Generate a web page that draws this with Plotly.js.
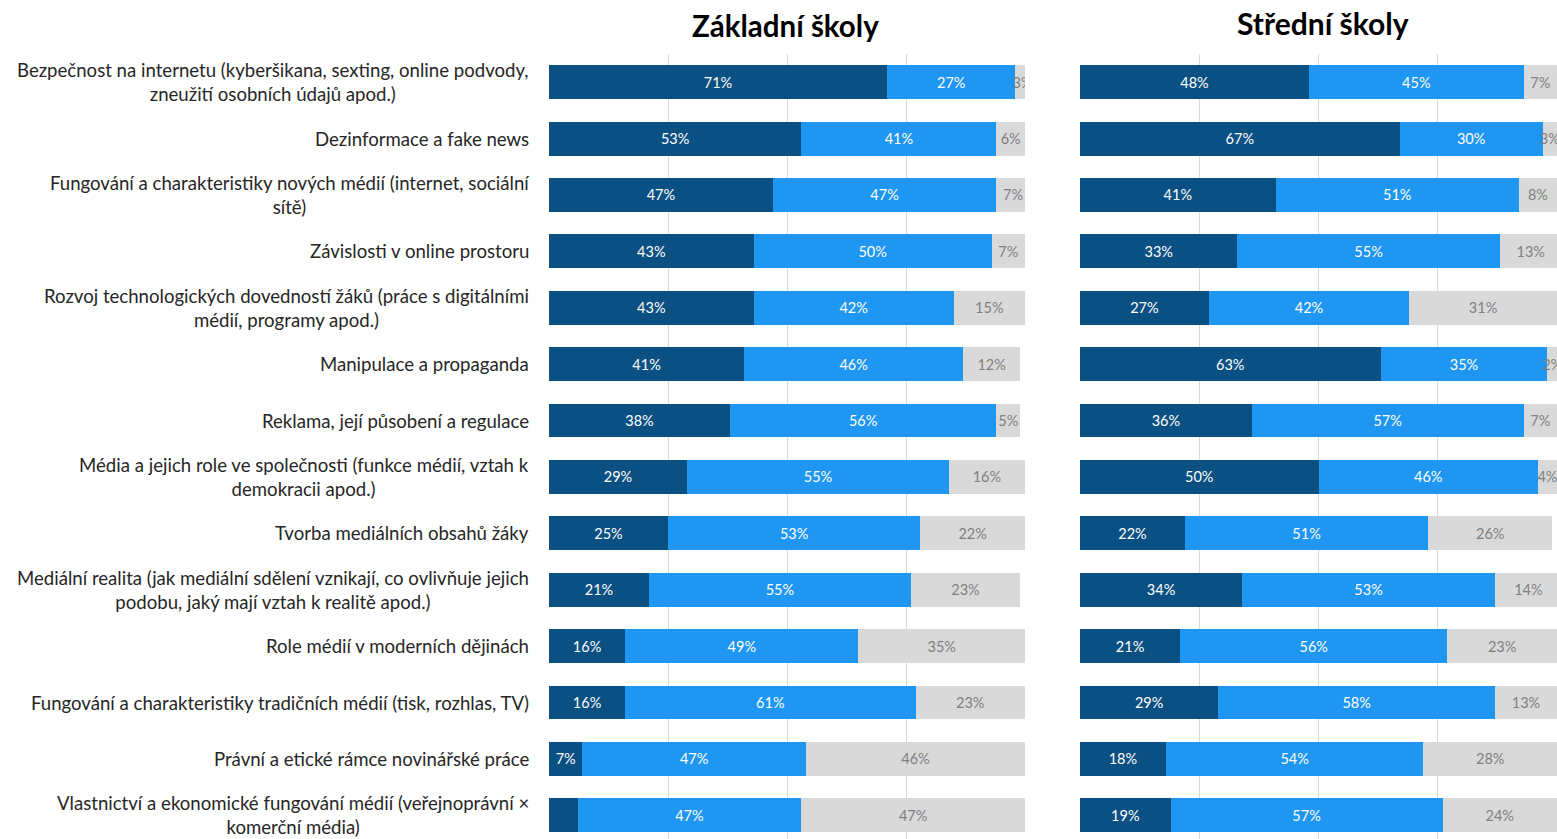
<!DOCTYPE html>
<html>
<head>
<meta charset="utf-8">
<script src="https://cdn.plot.ly/plotly-3.0.1.min.js"></script>
<style>
  html, body { margin: 0; padding: 0; background: #fff; }
  #chart { width: 1557px; height: 839px; }
</style>
</head>
<body>
<div id="chart"></div>
<script>
// ---- Data ----
const categories = [
  "Bezpečnost na internetu (kyberšikana, sexting, online podvody,<br>zneužití osobních údajů apod.)",
  "Dezinformace a fake news",
  "Fungování a charakteristiky nových médií (internet, sociální<br>sítě)",
  "Závislosti v online prostoru",
  "Rozvoj technologických dovedností žáků (práce s digitálními<br>médií, programy apod.)",
  "Manipulace a propaganda",
  "Reklama, její působení a regulace",
  "Média a jejich role ve společnosti (funkce médií, vztah k<br>demokracii apod.)",
  "Tvorba mediálních obsahů žáky",
  "Mediální realita (jak mediální sdělení vznikají, co ovlivňuje jejich<br>podobu, jaký mají vztah k realitě apod.)",
  "Role médií v moderních dějinách",
  "Fungování a charakteristiky tradičních médií (tisk, rozhlas, TV)",
  "Právní a etické rámce novinářské práce",
  "Vlastnictví a ekonomické fungování médií (veřejnoprávní ×<br>komerční média)"
];

const panelTitles = ["Základní školy", "Střední školy"];

// Základní školy
const zsDark  = [71, 53, 47, 43, 43, 41, 38, 29, 25, 21, 16, 16, 7, 6];
const zsLight = [27, 41, 47, 50, 42, 46, 56, 55, 53, 55, 49, 61, 47, 47];
const zsGray  = [3, 6, 7, 7, 15, 12, 5, 16, 22, 23, 35, 23, 46, 47];
const zsDarkHiddenLabels = [13]; // the last dark segment carries no label

// Střední školy
const ssDark  = [48, 67, 41, 33, 27, 63, 36, 50, 22, 34, 21, 29, 18, 19];
const ssLight = [45, 30, 51, 55, 42, 35, 57, 46, 51, 53, 56, 58, 54, 57];
const ssGray  = [7, 3, 8, 13, 31, 2, 7, 4, 26, 14, 23, 13, 28, 24];

const xTicks = [0, 25, 50, 75, 100];

// ---- Styles ----
const DARK = "#0B5083";
const LIGHT = "#1F96F1";
const GRAY = "#D9D9D9";
const GRID = "#D9D9D9";
const FONT = "Lato, 'Open Sans', sans-serif";

function labels(vals, hidden) {
  return vals.map((v, i) => (hidden && hidden.includes(i)) ? "" : v + "%");
}

function bar(vals, color, textColor, xa, ya, hidden, name) {
  return {
    type: "bar",
    orientation: "h",
    name: name,
    x: vals,
    y: categories,
    xaxis: xa,
    yaxis: ya,
    marker: { color: color, line: { width: 0 } },
    text: labels(vals, hidden),
    textposition: "inside",
    insidetextanchor: "middle",
    constraintext: "none",
    textangle: 0,
    textfont: { family: FONT, size: 14.5, color: textColor },
    hoverinfo: "x+y+name",
    showlegend: false
  };
}

const data = [
  bar(zsDark, DARK, "#FFFFFF", "x", "y", zsDarkHiddenLabels, "1"),
  bar(zsLight, LIGHT, "#FFFFFF", "x", "y", null, "2"),
  bar(zsGray, GRAY, "#7F7F7F", "x", "y", null, "3"),
  bar(ssDark, DARK, "#FFFFFF", "x2", "y2", null, "1"),
  bar(ssLight, LIGHT, "#FFFFFF", "x2", "y2", null, "2"),
  bar(ssGray, GRAY, "#7F7F7F", "x2", "y2", null, "3")
];

const W = 1557;
const leftDom = [549 / W, 1025 / W];
const rightDom = [1080 / W, 1.0];
const yRange = [13.42, -0.5];

const xAxisCommon = {
  range: [0, 100],
  tickvals: xTicks,
  showticklabels: false,
  showgrid: true,
  gridcolor: GRID,
  gridwidth: 1,
  zeroline: false,
  showline: false,
  ticks: "",
  fixedrange: true
};
const yAxisCommon = {
  type: "category",
  range: yRange,
  showticklabels: false,
  showgrid: false,
  zeroline: false,
  showline: false,
  ticks: "",
  fixedrange: true,
  domain: [0, 1]
};

const annotations = [];
categories.forEach(c => {
  annotations.push({
    xref: "paper", yref: "y",
    x: 531 / W, y: c,
    xanchor: "right", yanchor: "middle",
    align: "center",
    text: c,
    showarrow: false,
    font: { family: FONT, size: 18.6, color: "#262626" }
  });
});
annotations.push({
  xref: "paper", yref: "paper",
  x: (692 + 878) / 2 / W, y: 1 + 29 / 785,
  xanchor: "center", yanchor: "middle",
  text: "<b>" + panelTitles[0] + "</b>",
  showarrow: false,
  font: { family: FONT, size: 29.5, color: "#000000" }
});
annotations.push({
  xref: "paper", yref: "paper",
  x: (1237 + 1408) / 2 / W, y: 1 + 31 / 785,
  xanchor: "center", yanchor: "middle",
  text: "<b>" + panelTitles[1] + "</b>",
  showarrow: false,
  font: { family: FONT, size: 30, color: "#000000" }
});

const layout = {
  width: 1557,
  height: 839,
  margin: { l: 0, r: 0, t: 54, b: 0, pad: 0 },
  paper_bgcolor: "#FFFFFF",
  plot_bgcolor: "#FFFFFF",
  barmode: "stack",
  bargap: 0.4,
  xaxis: Object.assign({}, xAxisCommon, { domain: leftDom, anchor: "y" }),
  yaxis: Object.assign({}, yAxisCommon, { anchor: "x" }),
  xaxis2: Object.assign({}, xAxisCommon, { domain: rightDom, anchor: "y2" }),
  yaxis2: Object.assign({}, yAxisCommon, { anchor: "x2" }),
  annotations: annotations,
  font: { family: FONT }
};

Plotly.newPlot("chart", data, layout, { displayModeBar: false, staticPlot: true });
</script>
</body>
</html>
